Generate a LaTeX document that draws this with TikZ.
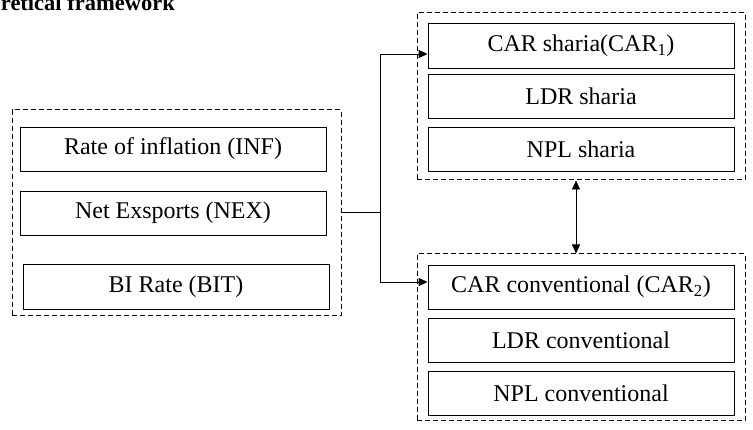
\documentclass[tikz,border=0pt]{standalone}
\usepackage{fontspec}
\setmainfont{Liberation Serif}
\usetikzlibrary{arrows.meta}
\begin{document}
\begin{tikzpicture}[x=1pt,y=-1pt,
  box/.style={draw, line width=0.9pt, minimum width=306pt, minimum height=44pt, inner sep=0pt, font=\fontsize{24}{27}\selectfont},
  grp/.style={draw, dash pattern=on 5pt off 3pt, line width=1pt, minimum width=328pt, minimum height=167pt, inner sep=0pt},
  arr/.style={-{Triangle[length=9pt,width=8pt]}, line width=0.9pt},
  darr/.style={{Triangle[length=9pt,width=8pt]}-{Triangle[length=9pt,width=8pt]}, line width=0.9pt},
  lnk/.style={line width=0.9pt}]
\useasboundingbox (0,0) rectangle (753,430);
\node[anchor=base east, inner xsep=0pt, font=\fontsize{22.5}{26}\selectfont\bfseries] (title) at (175,11) {Theoretical framework};
% left group
\node[grp, minimum width=329pt, minimum height=206pt] (L) at (176.5,213) {};
\node[box] (INF) at (173,149) {Rate of inflation (INF)};
\node[box] (NEX) at (173,213) {Net Exsports (NEX)};
\node[box, minimum height=45pt] (BIT) at (176,286.5) {BI Rate (BIT)};
% top right group
\node[grp] (S) at (581,96.5) {};
\node[box, minimum height=45pt] (CAR1) at (581,45.5) {CAR sharia(CAR\textsubscript{1})};
\node[box] (LDR1) at (581,96) {LDR sharia};
\node[box] (NPL1) at (581,149) {NPL sharia};
% bottom right group
\node[grp] (C) at (581,337.5) {};
\node[box] (CAR2) at (581,287) {CAR conventional (CAR\textsubscript{2})};
\node[box] (LDR2) at (581,340) {LDR conventional};
\node[box] (NPL2) at (581,393) {NPL conventional};
% connectors
\coordinate (j) at (380.5,212);
\draw[lnk] (L.east |- j) -- (j);
\draw[arr] (j) |- ([yshift=-8.5pt]CAR1.west);
\draw[arr] (j) |- ([yshift=5pt]CAR2.west);
\draw[darr] ([xshift=-5pt]S.south) -- ([xshift=-5pt]C.north);
\end{tikzpicture}
\end{document}
